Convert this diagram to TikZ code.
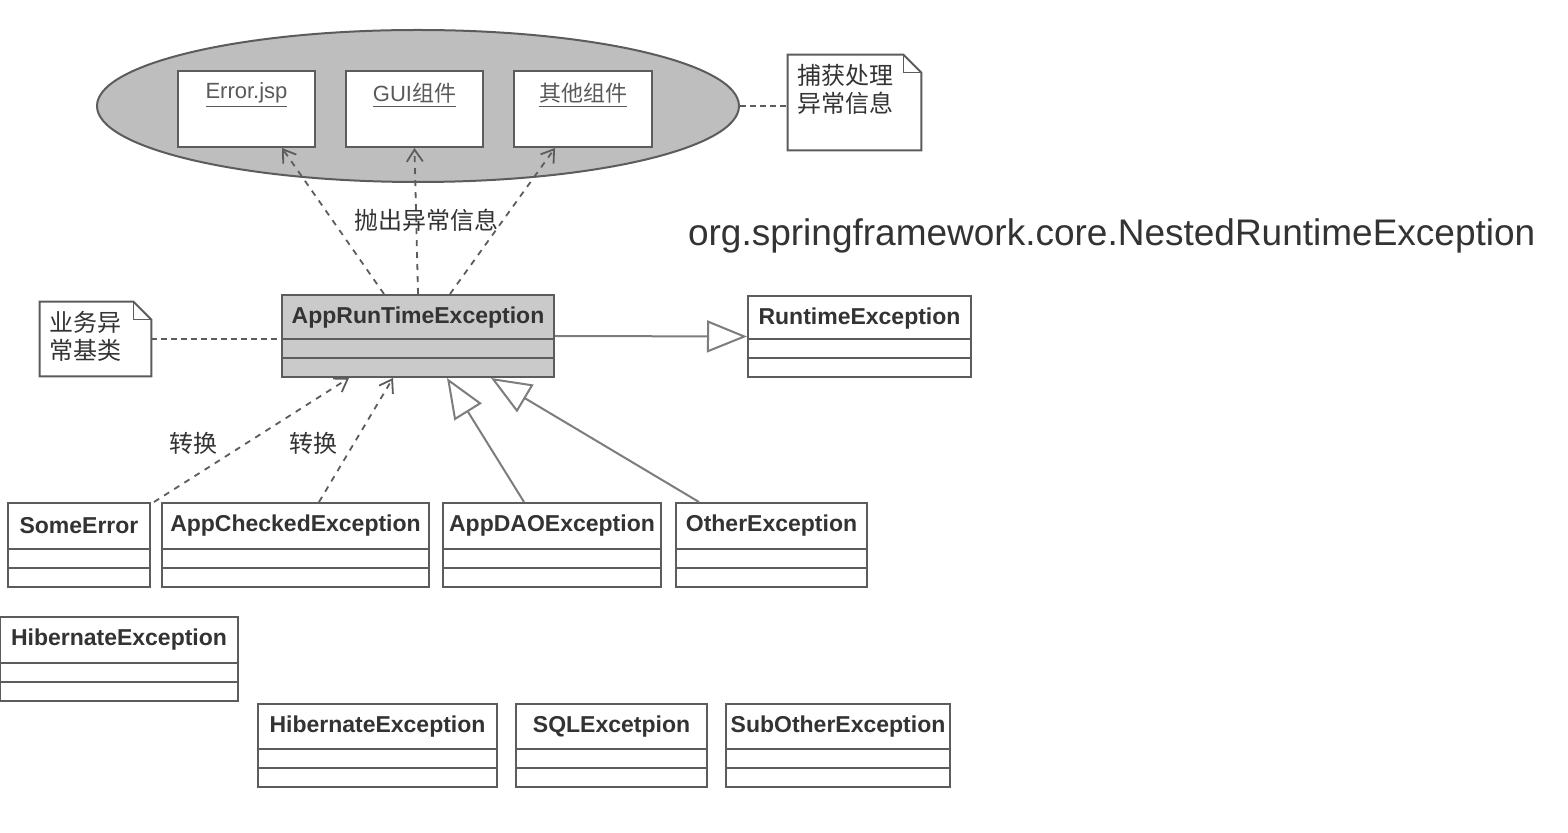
\documentclass[tikz,border=0pt]{standalone}
\usepackage{fontspec}
\setmainfont{Liberation Sans}
\newfontfamily\cjk{Noto Sans CJK SC}
\usepackage{xcolor}
\usepackage{tikz}
\usetikzlibrary{arrows.meta,shapes.geometric,fit,calc,positioning}

\definecolor{umlgray}{HTML}{5C5C5C}
\definecolor{umlfill}{HTML}{CACACA}
\definecolor{ovalfill}{HTML}{BEBEBE}

\tikzset{
  cls/.style={draw=umlgray,line width=1pt,inner sep=0pt},
  clsname/.style={font=\bfseries\fontsize{11.5}{13}\selectfont,text=black!80},
  clsline/.style={draw=umlgray,line width=0.9pt},
  uitext/.style={font=\fontsize{11}{13}\selectfont,text=black!65},
  notetext/.style={font=\cjk\fontsize{12}{14}\selectfont,align=left,anchor=north west,inner sep=0pt,text=black!80},
  lbl/.style={font=\cjk\fontsize{12}{14}\selectfont,text=black!80},
  depend/.style={dashed,draw=umlgray,line width=0.9pt,-{Straight Barb[length=6pt,width=8pt]}},
  inherit/.style={draw=umlgray!80,line width=1pt,-{Triangle[open,length=20pt,width=16pt,fill=white]}},
  attach/.style={draw=umlgray,line width=0.9pt,dash pattern=on 3pt off 2pt}
}

% class box: [fill]{name}{x1}{y1}{x2}{y2}{title}
\newcommand{\umlclass}[7][white]{%
  \node[cls,fill=#1,fit={(#3,#4) (#5,#6)}] (#2) {};
  \node[clsname] (#2-name) at ($(#2.north)+(0,24)$) {#7};
  \draw[clsline] ($(#2.south west)+(0,-20)$) -- ($(#2.south east)+(0,-20)$);
  \draw[clsline] ($(#2.south west)+(0,-39)$) -- ($(#2.south east)+(0,-39)$);
}

% note with folded corner: {name}{x1}{y1}{x2}{y2}{text}
\newcommand{\umlnote}[6]{%
  \node[inner sep=0pt,fit={(#2,#3) (#4,#5)}] (#1) {};
  \draw[cls,fill=white] (#1.north west) -- ($(#1.north east)+(-18,0)$) -- ($(#1.north east)+(0,18)$) -- (#1.south east) -- (#1.south west) -- cycle;
  \draw[clsline] ($(#1.north east)+(-18,0)$) |- ($(#1.north east)+(0,18)$);
  \node[notetext] (#1-text) at ($(#1.north west)+(9,9)$) {#6};
}

\begin{document}
\begin{tikzpicture}[x=0.5pt,y=-0.5pt]
\path[use as bounding box,fill=white] (0,0) rectangle (1568,833);

% presentation layer
\node[ellipse,draw=umlgray,line width=1pt,fill=ovalfill,minimum width=321pt,minimum height=76pt,inner sep=0pt] (ui) at (418,106) {};
\node[cls,fill=white,fit={(178,71) (315,147)}] (jsp) {};
\node[cls,fill=white,fit={(346,71) (483,147)}] (gui) {};
\node[cls,fill=white,fit={(514,71) (652,147)}] (other) {};
\node[uitext] (jsp-name) at ($(jsp.north)+(0,25)$) {\underline{Error.jsp}};
\node[uitext] (gui-name) at ($(gui.north)+(0,25)$) {\underline{GUI{\cjk 组件}}};
\node[uitext] (other-name) at ($(other.north)+(0,25)$) {\underline{{\cjk 其他组件}}};

\umlnote{catch}{788}{55}{921}{150}{捕获处理\\异常信息}
\draw[attach] (ui.east) -- (ui.east -| catch.west);

% base classes
\umlclass[umlfill]{are}{282}{295}{554}{377}{AppRunTimeException}
\umlclass{rte}{748}{296}{971}{377}{RuntimeException}
\umlnote{base}{40}{302}{151}{376}{业务异\\常基类}
\draw[attach] (base.east) -- (base.east -| are.west);

\node[anchor=west,font=\fontsize{18.5}{22}\selectfont,text=black!80] (nested) at (681,236) {org.springframework.core.NestedRuntimeException};

% subclasses
\umlclass{se}{8}{503}{150}{587}{SomeError}
\umlclass{ace}{162}{503}{429}{587}{AppCheckedException}
\umlclass{dao}{443}{503}{661}{587}{AppDAOException}
\umlclass{oth}{676}{503}{867}{587}{OtherException}

\umlclass{hib}{0}{617}{238}{701}{HibernateException}
\umlclass{hib2}{258}{704}{497}{787}{HibernateException}
\umlclass{sql}{516}{704}{707}{787}{SQLExcetpion}
\umlclass{sub}{726}{704}{950}{787}{SubOtherException}

% connectors
\draw[depend] ($(are.north west)+(103,0)$) -- ($(jsp.south west)+(105,0)$);
\draw[depend] (are.north) -- (gui.south);
\draw[depend] ($(are.north)+(32,0)$) -- ($(other.south)+(-28,0)$);
\node[lbl] (throw) at (426,220) {抛出异常信息};

\draw[inherit] (are.east) -- (rte.west);

\draw[depend] ($(se.north east)+(3,0)$) -- ($(are.south west)+(68,0)$);
\draw[depend] ($(ace.north west)+(158,0)$) -- ($(are.south west)+(112,0)$);
\node[lbl] (conv1) at (193,443) {转换};
\node[lbl] (conv2) at (313,443) {转换};

\draw[inherit] ($(dao.north west)+(82,0)$) -- ($(are.south west)+(166,0)$);
\draw[inherit] ($(oth.north west)+(24,0)$) -- ($(are.south west)+(210,0)$);

\end{tikzpicture}
\end{document}
